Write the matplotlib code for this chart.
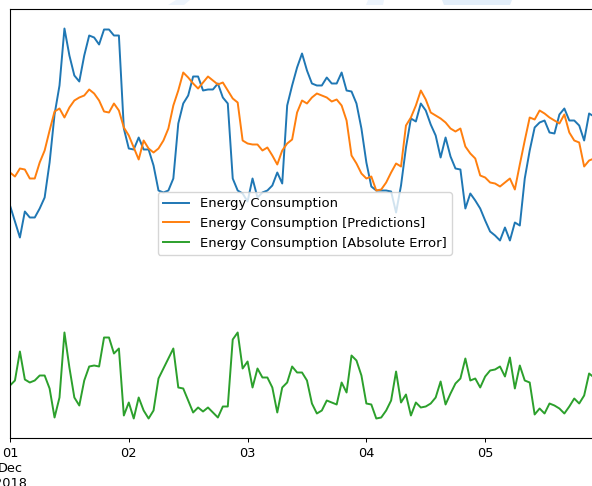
import matplotlib
matplotlib.use("Agg")
import matplotlib.pyplot as plt
from matplotlib.ticker import NullLocator
from matplotlib.patches import Polygon
import pandas as pd

# Hourly energy consumption (MW), 1-5 Dec 2018
start = "2018-12-01 00:00"

actual = [
    21400, 19800, 18200, 20800, 20200, 20200, 21100, 22200, 25700, 30500,
    33400, 39100, 36400, 34400, 33800, 36400, 38400, 38200, 37500, 39000,
    39000, 38400, 38400, 29100, 27100, 27000, 28200, 27000, 27000, 25400,
    22900, 22700, 22900, 24100, 29600, 31600, 32400, 34300, 34300, 32900,
    33000, 33000, 33600, 32200, 31600, 24100, 22900, 22600, 21800, 24100,
    22200, 22700, 22900, 23400, 24700, 23600, 31400, 33400, 35200, 36600,
    34900, 33600, 33400, 33400, 34200, 33600, 33600, 34700, 32900, 32800,
    31600, 29100, 25700, 23300, 22900, 22900, 22900, 22800, 20700, 23400,
    27200, 30100, 29800, 31600, 30900, 29500, 28400, 26200, 28200, 26300,
    25100, 25000, 21100, 22600, 21900, 21100, 19900, 18800, 18400, 17900,
    19200, 17900, 19700, 19400, 24100, 26900, 29200, 29700, 29900, 28700,
    28600, 30500, 31100, 29900, 29900, 29400, 27900, 30600, 30300,
]

predicted = [
    24700, 24300, 25100, 25000, 24100, 24100, 25700, 26900, 28900, 30800,
    31100, 30200, 31200, 31900, 32200, 32400, 33000, 32600, 31900, 30800,
    30700, 31600, 30900, 29200, 28400, 27200, 26000, 27900, 27100, 26700,
    27100, 27900, 29100, 31400, 32900, 34700, 34200, 33600, 33100, 33700,
    34300, 33900, 33500, 33700, 32900, 32100, 31700, 27900, 27600, 27500,
    27500, 26900, 27200, 26400, 25500, 26900, 27600, 28000, 30700, 31900,
    31600, 32200, 32600, 32400, 32200, 31800, 32000, 31400, 29900, 26400,
    25600, 24600, 24100, 24300, 22900, 23000, 23700, 24700, 25600, 25300,
    29400, 30200, 31400, 32900, 32000, 30700, 30400, 30100, 29700, 29100,
    28800, 29100, 27300, 26600, 26100, 24400, 24200, 23700, 23600, 23300,
    23700, 24100, 23000, 25500, 27900, 30200, 30000, 30900, 30600, 30200,
    29900, 29600, 30500, 28700, 27900, 27700, 25300, 25900, 26100,
]

abs_error = [
    3400, 3900, 6800, 4000, 3700, 3900, 4400, 4400, 3100, 200,
    2200, 8700, 5200, 2200, 1400, 3900, 5300, 5400, 5300, 8200,
    8200, 6600, 7100, 400, 1700, 100, 2200, 900, 100, 900,
    4100, 5100, 6100, 7100, 3200, 3100, 1900, 700, 1200, 800,
    1200, 700, 200, 1300, 1300, 8000, 8700, 5100, 5800, 3200,
    5100, 4200, 4200, 3200, 700, 3200, 3700, 5300, 4700, 4700,
    3900, 1600, 600, 900, 1900, 1700, 1500, 3700, 2700, 6400,
    5900, 4400, 1600, 1500, 100, 200, 900, 1900, 4800, 1700,
    2500, 400, 1700, 1200, 1300, 1600, 2200, 3800, 1500, 2600,
    3600, 4100, 6100, 3900, 4100, 3200, 4300, 4900, 5000, 5300,
    4300, 6200, 3100, 5400, 3900, 3700, 500, 1100, 600, 1600,
    1400, 1100, 600, 1300, 2100, 1600, 2400, 4600, 4200,
]

tick_labels = ["01\nDec\n2018", "02", "03", "04", "05"]

index = pd.date_range(start, periods=len(actual), freq="h")
end = pd.Timestamp("2018-12-05 23:00")
tick_days = pd.date_range("2018-12-01", periods=len(tick_labels), freq="D")

W, H = 592, 486
fig = plt.figure(figsize=(W / 100, H / 100), dpi=100)
fig.patch.set_facecolor("white")

# plot area: left spine and top/bottom spines inside the canvas,
# right spine just past the canvas edge
left_px, right_px, top_px, bottom_px = 10, 599, 9, 438
ax = fig.add_axes([left_px / W, 1 - bottom_px / H,
                   (right_px - left_px) / W, (bottom_px - top_px) / H])

lw = 1.4
ax.plot(index, actual, color="#1f77b4", lw=lw, label="Energy Consumption")
ax.plot(index, predicted, color="#ff7f0e", lw=lw,
        label="Energy Consumption [Predictions]")
ax.plot(index, abs_error, color="#2ca02c", lw=lw,
        label="Energy Consumption [Absolute Error]")

ax.set_xlim(index[0], end)
ax.set_yticks([])
ax.set_xticks(tick_days)
ax.set_xticklabels(tick_labels, fontsize=9.3)
ax.xaxis.set_minor_locator(NullLocator())
ax.tick_params(axis="x", length=3.2, width=0.7, pad=3)
for s in ax.spines.values():
    s.set_linewidth(0.8)

leg = ax.legend(loc="center", fontsize=9.45, framealpha=0.8,
                edgecolor="0.8", fancybox=True)

# faint light-blue shapes along the upper edge of the canvas
def px_poly(pts, color):
    fig.patches.append(Polygon([(x / W, 1 - y / H) for x, y in pts],
                               closed=True, transform=fig.transFigure,
                               facecolor=color, edgecolor="none", zorder=0))

px_poly([(168, 5), (176, 0), (190, 0), (184, 5)], "#edf4fc")
px_poly([(366, 5), (368, 0), (384, 0), (383, 5)], "#edf4fc")
px_poly([(442, 0), (512, 0), (510, 5), (444, 5)], "#e3eef9")

fig.savefig("out.png", dpi=100, facecolor="white")
